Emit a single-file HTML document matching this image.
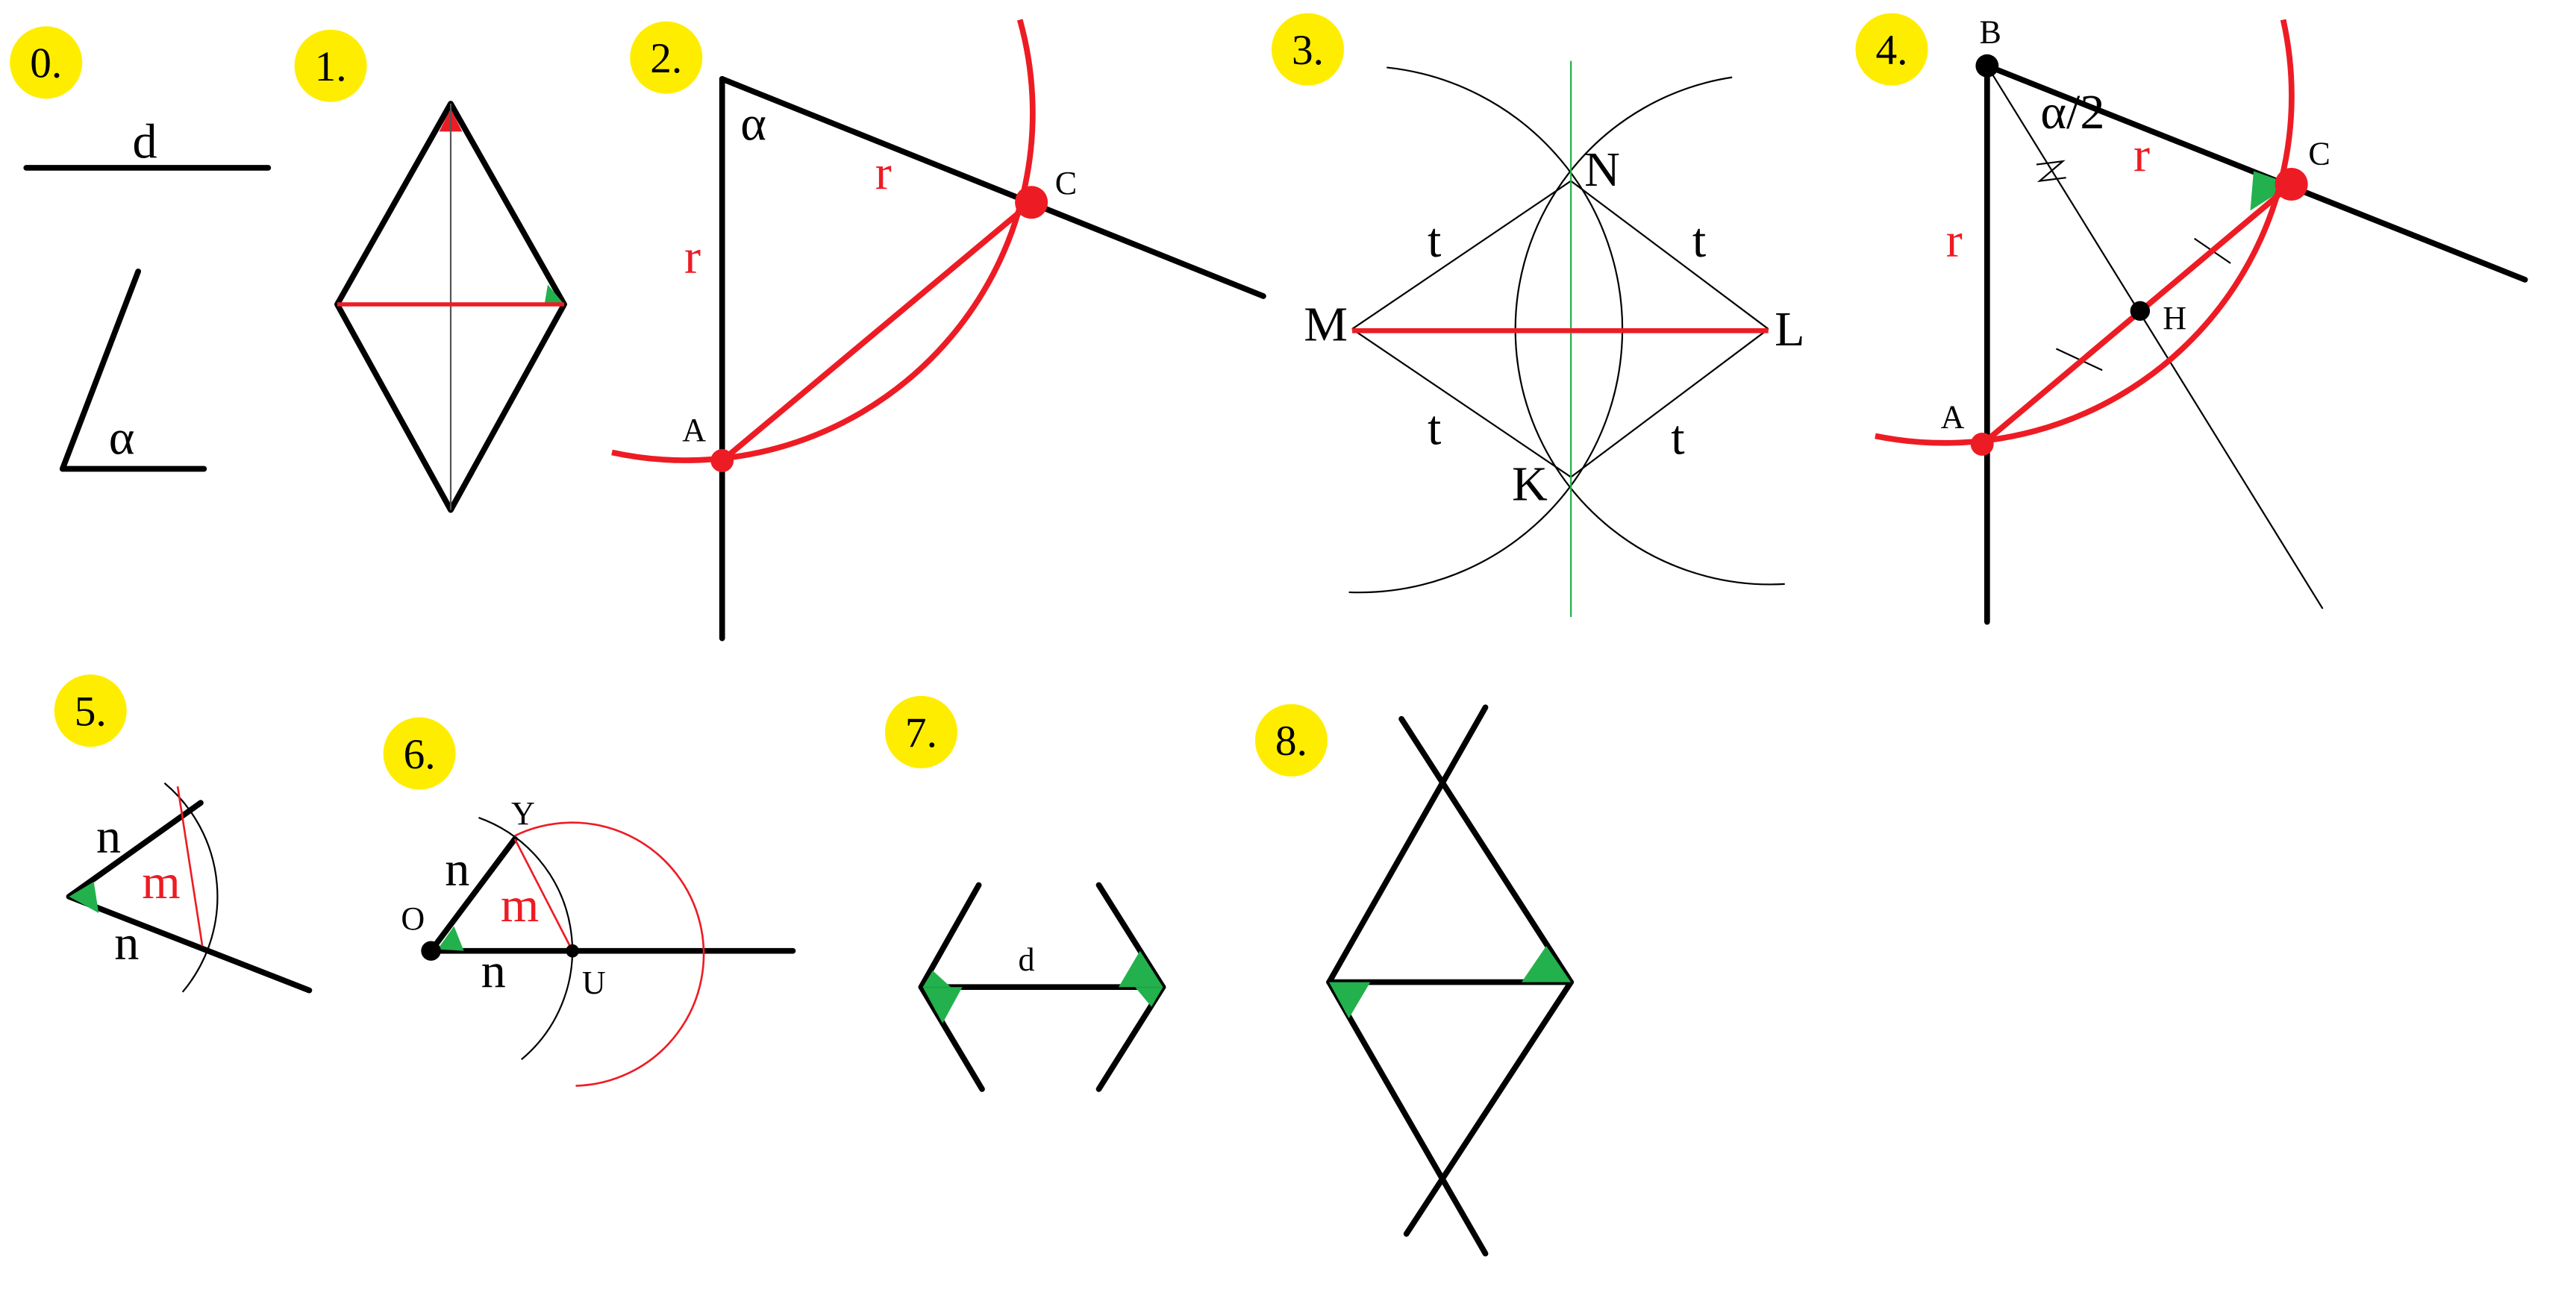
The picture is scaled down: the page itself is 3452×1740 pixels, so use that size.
<!DOCTYPE html>
<html><head><meta charset="utf-8"><style>
html,body{margin:0;padding:0;background:#fff;width:3452px;height:1740px;overflow:hidden}
svg{display:block}
text{font-family:"Liberation Serif",serif}
</style></head><body>
<svg width="3452" height="1740" viewBox="0 0 1566 789" preserveAspectRatio="none" xmlns="http://www.w3.org/2000/svg">
<g fill="#ffed00">
<circle cx="28" cy="38" r="22"/><circle cx="201" cy="40" r="22"/><circle cx="405" cy="35" r="22"/>
<circle cx="795" cy="30" r="22"/><circle cx="1150" cy="30" r="22"/><circle cx="55" cy="432" r="22"/>
<circle cx="255" cy="458" r="22"/><circle cx="560" cy="445" r="22"/><circle cx="785" cy="450" r="22"/>
</g>
<g font-size="26" fill="#000" text-anchor="middle">
<text x="28" y="47">0.</text><text x="201" y="49">1.</text><text x="405" y="44">2.</text>
<text x="795" y="39">3.</text><text x="1150" y="39">4.</text><text x="55" y="441">5.</text>
<text x="255" y="467">6.</text><text x="560" y="454">7.</text><text x="785" y="459">8.</text>
</g>
<g stroke="#000" stroke-width="3.5" fill="none" stroke-linecap="round" stroke-linejoin="round">
<line x1="16" y1="102" x2="163" y2="102"/>
<polyline points="84,165 38,285 124,285"/>
<polygon points="274,63 343,185 274,310 205,185"/>
<line x1="439" y1="48" x2="439" y2="388"/>
<line x1="439" y1="48" x2="768" y2="180"/>
<line x1="1208" y1="40" x2="1208" y2="378"/>
<line x1="1208" y1="40" x2="1535" y2="170"/>
<line x1="42" y1="545" x2="122" y2="488"/>
<line x1="42" y1="545" x2="188" y2="602"/>
<line x1="262" y1="578" x2="482" y2="578"/>
<line x1="262" y1="578" x2="313" y2="510"/>
<line x1="560" y1="600" x2="707" y2="600"/>
<polyline points="595,538 560,600 597,662"/>
<polyline points="668,538 707,600 668,662"/>
<line x1="808" y1="597" x2="955" y2="597"/>
<line x1="808" y1="597" x2="903" y2="430"/>
<line x1="955" y1="597" x2="852" y2="437"/>
<line x1="808" y1="597" x2="903" y2="762"/>
<line x1="955" y1="597" x2="855" y2="750"/>
</g>
<g fill="#22b14c">
<polygon points="343,185 331,185 333,173"/>
<polygon points="1393,112 1370,104 1368,128"/>
<polygon points="42,545 57,536 60,555"/>
<polygon points="266,577 276,563 282,578"/>
<polygon points="561,600 585,600 573,622"/><polygon points="561,600 578,600 567,590"/>
<polygon points="707,600 680,600 693,578"/><polygon points="707,600 690,600 700,612"/>
<polygon points="808,597 833,597 820,619"/>
<polygon points="955,597 925,597 940,575"/>
</g>
<polygon points="274,66 267,80 281,80" fill="#ed1c24"/>
<g stroke="#000" stroke-width="1" fill="none">
<line x1="274" y1="63" x2="274" y2="310" stroke="#555"/>
<line x1="822" y1="200" x2="955" y2="110"/><line x1="955" y1="110" x2="1075" y2="200"/>
<line x1="822" y1="200" x2="955" y2="290"/><line x1="955" y1="290" x2="1075" y2="200"/>
<path d="M843,41 A160,160 0 0 1 820,360"/>
<path d="M1053,47 A155,155 0 0 0 1085,355"/>
<line x1="1208" y1="40" x2="1412" y2="370"/>
<path d="M1238,100 L1254,98 L1240,110 L1256,108"/>
<line x1="1334" y1="145" x2="1356" y2="160"/><line x1="1250" y1="212" x2="1278" y2="225"/>
<path d="M100,476 A90,90 0 0 1 111,603"/>
<path d="M291,497 A86,86 0 0 1 317,644"/>
</g>
<line x1="955" y1="37" x2="955" y2="375" stroke="#22b14c" stroke-width="1"/>
<g stroke="#ed1c24" fill="none">
<line x1="205" y1="185" x2="343" y2="185" stroke-width="2.5"/>
<path d="M372,275 A211,211 0 0 0 620,12" stroke-width="3.5"/>
<line x1="439" y1="280" x2="627" y2="123" stroke-width="3.5"/>
<line x1="822" y1="201" x2="1075" y2="201" stroke-width="3"/>
<path d="M1140,265 A211,211 0 0 0 1388,12" stroke-width="3.5"/>
<line x1="1205" y1="270" x2="1393" y2="112" stroke-width="3.5"/>
<line x1="108" y1="478" x2="123" y2="575" stroke-width="1.2"/>
<line x1="313" y1="510" x2="348" y2="578" stroke-width="1.2"/>
<path d="M313,508 A80,80 0 1 1 350,660" stroke-width="1.2"/>
</g>
<g fill="#ed1c24">
<circle cx="439" cy="280" r="7"/><circle cx="627" cy="123" r="10"/>
<circle cx="1205" cy="270" r="7"/><circle cx="1393" cy="112" r="10"/>
</g>
<g fill="#000">
<circle cx="1208" cy="40" r="7"/><circle cx="1301" cy="189" r="6"/>
<circle cx="262" cy="578" r="6"/><circle cx="348" cy="578" r="4"/>
</g>
<g font-size="30" text-anchor="middle" fill="#000">
<text x="88" y="96">d</text><text x="74" y="276">α</text>
<text x="458" y="85">α</text>
<text x="872" y="156">t</text><text x="1033" y="156">t</text><text x="872" y="270">t</text><text x="1020" y="276">t</text>
<text x="806" y="207">M</text><text x="1088" y="210">L</text><text x="974" y="113">N</text><text x="930" y="304">K</text>
<text x="1260" y="78">α/2</text>
<text x="66" y="518">n</text><text x="77" y="583">n</text>
<text x="278" y="538">n</text><text x="300" y="600">n</text>
</g>
<g font-size="30" text-anchor="middle" fill="#ed1c24">
<text x="537" y="115">r</text><text x="421" y="166">r</text>
<text x="1302" y="104">r</text><text x="1188" y="156">r</text>
<text x="98" y="546">m</text><text x="316" y="560">m</text>
</g>
<g font-size="20" text-anchor="middle" fill="#000">
<text x="422" y="268">A</text><text x="648" y="118">C</text>
<text x="1210" y="26">B</text><text x="1410" y="100">C</text><text x="1187" y="260">A</text><text x="1322" y="200">H</text>
<text x="318" y="501">Y</text><text x="251" y="565">O</text><text x="361" y="604">U</text>
<text x="624" y="590">d</text>
</g>
</svg>
</body></html>
